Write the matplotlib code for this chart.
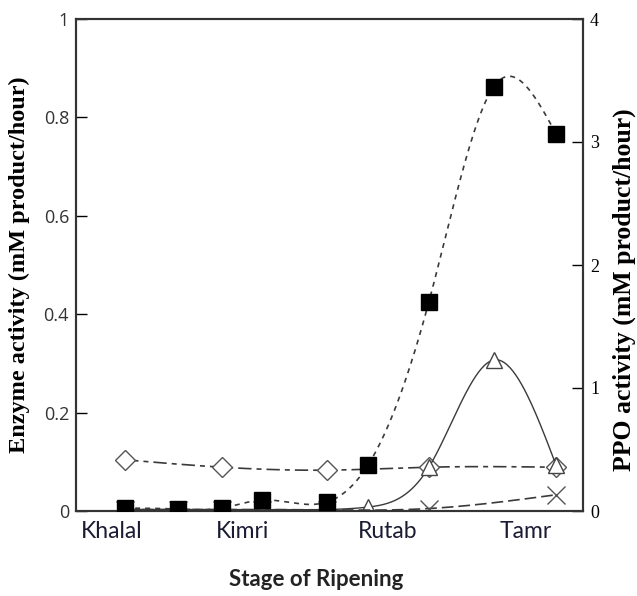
import matplotlib
matplotlib.use('Agg')
import matplotlib.pyplot as plt
import numpy as np

# sampling positions along the ripening axis
x_pos = [0.97, 2.01, 2.88, 3.67, 4.95, 5.76, 6.96, 8.24, 9.47]

stages = ['Khalal', 'Kimri', 'Rutab', 'Tamr']
stage_pos = [0.71, 3.29, 6.15, 8.88]

# PPO (right axis)
ppo = [0.024, 0.016, 0.024, 0.089, 0.073, 0.374, 1.70, 3.45, 3.065]

# other enzymes (left axis)
x_diamond = [0.97, 2.88, 4.95, 6.96, 9.47]
diamond = [0.104, 0.089, 0.083, 0.089, 0.089]

triangle = [0.003, 0.003, 0.003, 0.003, 0.003, 0.008, 0.089, 0.307, 0.093]

x_cross = [0.97, 2.01, 2.88, 3.67, 4.95, 6.96, 9.47]
cross = [0.003, 0.003, 0.003, 0.003, 0.002, 0.005, 0.033]


def spline(x, y, n=300):
    # natural cubic spline, like the smoothed lines of the original
    x = np.asarray(x, float)
    y = np.asarray(y, float)
    k = len(x)
    h = np.diff(x)
    A = np.zeros((k, k))
    b = np.zeros(k)
    A[0, 0] = A[-1, -1] = 1
    for i in range(1, k - 1):
        A[i, i - 1] = h[i - 1]
        A[i, i] = 2 * (h[i - 1] + h[i])
        A[i, i + 1] = h[i]
        b[i] = 6 * ((y[i + 1] - y[i]) / h[i] - (y[i] - y[i - 1]) / h[i - 1])
    M = np.linalg.solve(A, b)
    xs = np.linspace(x[0], x[-1], n)
    idx = np.clip(np.searchsorted(x, xs) - 1, 0, k - 2)
    x0, x1 = x[idx], x[idx + 1]
    hh = x1 - x0
    t0 = x1 - xs
    t1 = xs - x0
    ys = (M[idx] * t0**3 + M[idx + 1] * t1**3) / (6 * hh) \
        + (y[idx] / hh - M[idx] * hh / 6) * t0 \
        + (y[idx + 1] / hh - M[idx + 1] * hh / 6) * t1
    return xs, ys


fig = plt.figure(figsize=(6.37, 5.96), dpi=100)
ax = fig.add_axes([76 / 637, 85 / 596, 507 / 637, 492 / 596])
ax2 = ax.twinx()

lc = '#3a3a3a'

# diamonds
xs, ys = spline(x_diamond, diamond)
ax.plot(xs, ys, color=lc, lw=1.2, dashes=(8, 3, 3, 3))
ax.plot(x_diamond, diamond, 'D', ms=10.5, mfc='white', mec='#555555', mew=1.0)

# triangles
xs, ys = spline(x_pos, triangle)
ax.plot(xs, np.clip(ys, 0, None), color=lc, lw=1.0)
ax.plot(x_pos, triangle, '^', ms=12, mfc='white', mec='#444444', mew=1.0)

# crosses
xs, ys = spline(x_cross, cross)
ax.plot(xs, np.clip(ys, 0, None), color=lc, lw=1.2, dashes=(7, 3))
ax.plot(x_cross, cross, 'x', ms=13, mec='#555555', mew=1.0)

# PPO squares
xs, ys = spline(x_pos, ppo)
ax2.plot(xs, ys, color=lc, lw=1.2, dashes=(3, 3))
ax2.plot(x_pos, ppo, 's', ms=11.5, mfc='black', mec='black', zorder=5)

ax.set_xlim(0, 10)
ax.set_ylim(0, 1)
ax2.set_ylim(0, 4)

ax.set_yticks([0, 0.2, 0.4, 0.6, 0.8, 1])
ax.set_yticklabels(['0', '0.2', '0.4', '0.6', '0.8', '1'])
ax.tick_params(axis='y', direction='in', length=8, width=1, labelsize=13,
               labelcolor='#333333', pad=5)
for t in ax.get_yticklabels():
    t.set_family('Open Sans')

ax2.set_yticks([0, 1, 2, 3, 4])
ax2.tick_params(axis='y', direction='in', length=8, width=1, labelsize=13, pad=5)
for t in ax2.get_yticklabels():
    t.set_family('Liberation Serif')

ax.set_xticks(stage_pos)
ax.set_xticklabels(stages, fontsize=16.5, family='Lato', color='#1b1b33')
ax.tick_params(axis='x', length=0, pad=7)

for a in (ax, ax2):
    for s in a.spines.values():
        s.set_linewidth(1.5)
        s.set_color('#333333')

ax.set_ylabel('Enzyme activity (mM product/hour)', family='Liberation Serif',
              fontweight='bold', fontsize=17.5)
ax.yaxis.set_label_coords(-0.09, 0.5)
ax2.set_ylabel('PPO activity (mM product/hour)', family='Liberation Serif',
               fontweight='bold', fontsize=18.5)
ax2.yaxis.set_label_coords(1.058, 0.45)
ax.set_xlabel('Stage of Ripening', family='Lato', fontweight='bold',
              fontsize=16, color='#222222')
ax.xaxis.set_label_coords(0.473, -0.118)

fig.savefig('out.png', dpi=100)
